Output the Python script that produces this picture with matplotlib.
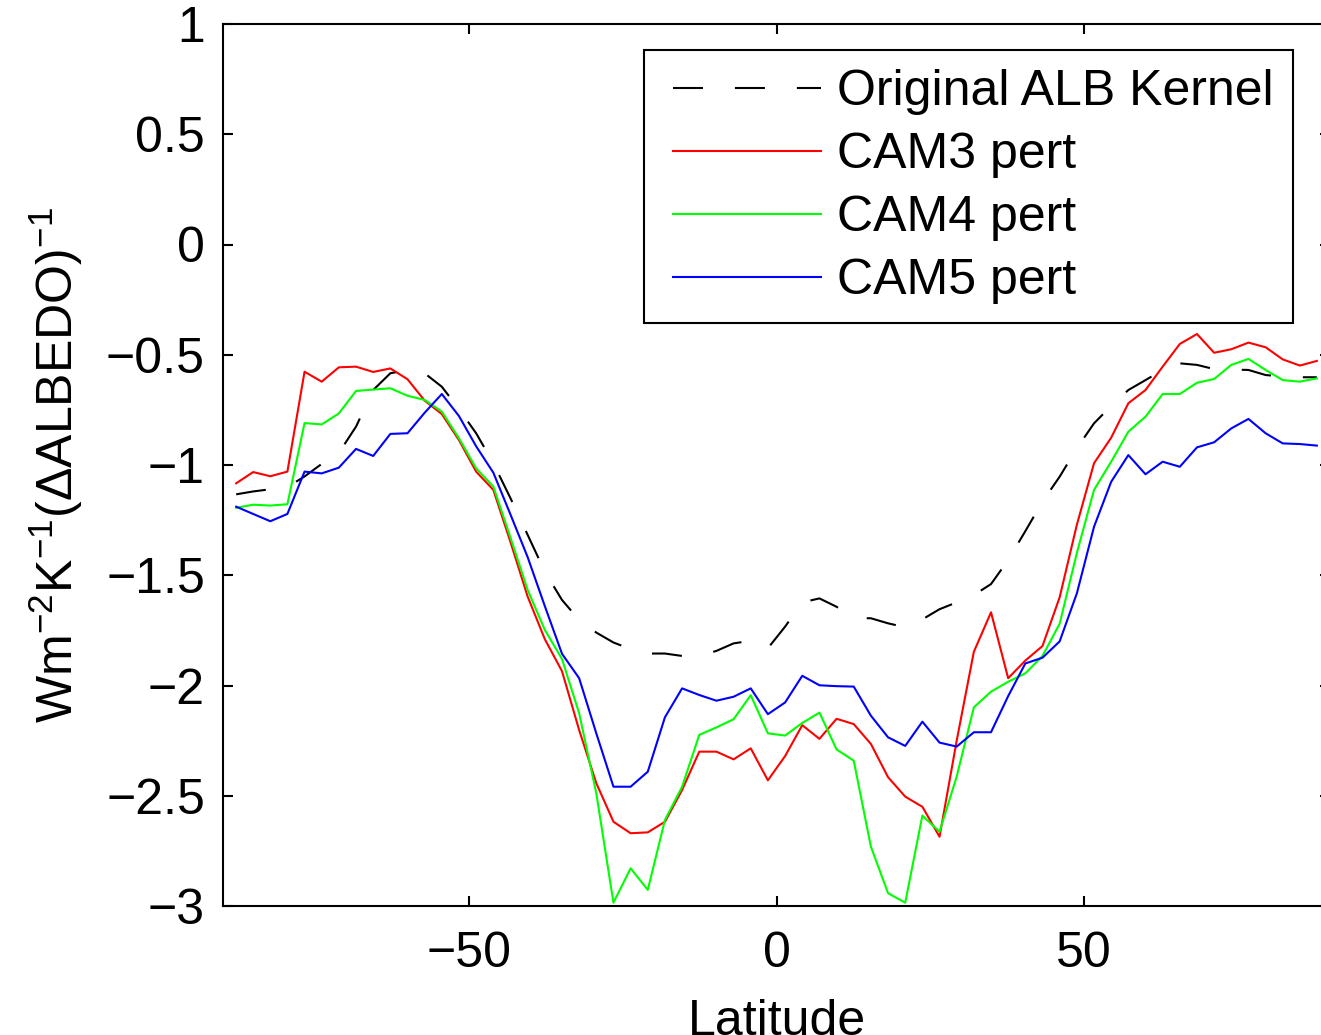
import matplotlib
matplotlib.use("Agg")
import matplotlib.pyplot as plt
from matplotlib.legend_handler import HandlerLine2D

plt.rcParams['font.family'] = ['Liberation Sans', 'DejaVu Sans']
plt.rcParams['mathtext.fontset'] = 'custom'
plt.rcParams['mathtext.rm'] = 'Liberation Sans'
plt.rcParams['mathtext.it'] = 'Liberation Sans:italic'
plt.rcParams['mathtext.bf'] = 'Liberation Sans:bold'
plt.rcParams['lines.scale_dashes'] = False

# T42 Gaussian latitudes (south to north)
latitude = [-87.86, -85.10, -82.31, -79.53, -76.74, -73.95, -71.16, -68.37,
            -65.58, -62.79, -60.00, -57.21, -54.42, -51.63, -48.84, -46.04,
            -43.25, -40.46, -37.67, -34.88, -32.09, -29.30, -26.51, -23.72,
            -20.93, -18.14, -15.35, -12.56, -9.77, -6.98, -4.19, -1.40,
            1.40, 4.19, 6.98, 9.77, 12.56, 15.35, 18.14, 20.93,
            23.72, 26.51, 29.30, 32.09, 34.88, 37.67, 40.46, 43.25,
            46.04, 48.84, 51.63, 54.42, 57.21, 60.00, 62.79, 65.58,
            68.37, 71.16, 73.95, 76.74, 79.53, 82.31, 85.10, 87.86]

original_alb = [-1.133, -1.120, -1.110, -1.100, -1.052, -0.995, -0.945, -0.826,
                -0.660, -0.584, -0.569, -0.584, -0.645, -0.746, -0.856, -0.992,
                -1.151, -1.317, -1.484, -1.612, -1.703, -1.760, -1.805, -1.835,
                -1.855, -1.855, -1.866, -1.866, -1.843, -1.809, -1.797, -1.831,
                -1.733, -1.623, -1.605, -1.643, -1.695, -1.695, -1.718, -1.736,
                -1.700, -1.654, -1.623, -1.590, -1.540, -1.431, -1.300, -1.166,
                -1.053, -0.924, -0.811, -0.732, -0.660, -0.615, -0.569, -0.539,
                -0.546, -0.565, -0.567, -0.569, -0.592, -0.599, -0.602, -0.602]

cam3_pert = [-1.083, -1.032, -1.051, -1.030, -0.577, -0.622, -0.557, -0.554,
             -0.578, -0.562, -0.611, -0.708, -0.769, -0.887, -1.030, -1.113,
             -1.350, -1.597, -1.790, -1.935, -2.202, -2.443, -2.618, -2.670,
             -2.666, -2.618, -2.474, -2.300, -2.300, -2.335, -2.285, -2.430,
             -2.320, -2.180, -2.242, -2.151, -2.175, -2.265, -2.416, -2.504,
             -2.550, -2.686, -2.250, -1.847, -1.668, -1.967, -1.887, -1.821,
             -1.600, -1.271, -0.992, -0.876, -0.720, -0.660, -0.554, -0.451,
             -0.406, -0.491, -0.475, -0.445, -0.466, -0.521, -0.549, -0.528]

cam4_pert = [-1.194, -1.180, -1.184, -1.178, -0.810, -0.816, -0.766, -0.664,
             -0.658, -0.652, -0.686, -0.705, -0.758, -0.879, -1.015, -1.098,
             -1.330, -1.567, -1.748, -1.880, -2.126, -2.489, -2.985, -2.829,
             -2.927, -2.610, -2.459, -2.224, -2.190, -2.153, -2.044, -2.217,
             -2.227, -2.170, -2.123, -2.290, -2.341, -2.731, -2.942, -2.985,
             -2.590, -2.663, -2.413, -2.099, -2.028, -1.983, -1.945, -1.866,
             -1.720, -1.399, -1.113, -0.985, -0.849, -0.781, -0.678, -0.678,
             -0.627, -0.610, -0.546, -0.519, -0.569, -0.615, -0.622, -0.607]

cam5_pert = [-1.189, -1.222, -1.255, -1.222, -1.030, -1.038, -1.012, -0.927,
             -0.959, -0.859, -0.856, -0.763, -0.678, -0.778, -0.915, -1.035,
             -1.225, -1.418, -1.640, -1.856, -1.967, -2.217, -2.459, -2.459,
             -2.391, -2.144, -2.013, -2.043, -2.069, -2.051, -2.013, -2.130,
             -2.077, -1.956, -1.999, -2.003, -2.005, -2.137, -2.235, -2.274,
             -2.164, -2.259, -2.277, -2.212, -2.212, -2.048, -1.900, -1.874,
             -1.800, -1.582, -1.280, -1.076, -0.955, -1.042, -0.985, -1.008,
             -0.920, -0.897, -0.834, -0.791, -0.856, -0.902, -0.905, -0.912]

series_labels = ['Original ALB Kernel', 'CAM3 pert', 'CAM4 pert', 'CAM5 pert']
xtick_values = [-50, 0, 50]
xtick_labels = ['\u221250', '0', '50']
ytick_values = [-3, -2.5, -2, -1.5, -1, -0.5, 0, 0.5, 1]
ytick_labels = ['\u22123', '\u22122.5', '\u22122', '\u22121.5', '\u22121', '\u22120.5', '0', '0.5', '1']

W, H = 1321, 1035
fig = plt.figure(figsize=(W / 100, H / 100), dpi=100)
ax = fig.add_axes([223 / W, (H - 906) / H, (1330 - 223) / W, (906 - 24) / H])

fs = 36
lw = 1.5
ax.plot(latitude, original_alb, color='black', lw=lw, linestyle=(0, (21.6, 23.0)), label=series_labels[0])
ax.plot(latitude, cam3_pert, color=(1, 0, 0), lw=lw, label=series_labels[1])
ax.plot(latitude, cam4_pert, color=(0, 1, 0), lw=lw, label=series_labels[2])
ax.plot(latitude, cam5_pert, color=(0, 0, 1), lw=lw, label=series_labels[3])

ax.set_xlim(-90, 90)
ax.set_ylim(-3, 1)
ax.set_xticks(xtick_values)
ax.set_xticklabels(xtick_labels)
ax.set_yticks(ytick_values)
ax.set_yticklabels(ytick_labels)
ax.tick_params(direction='in', length=7.2, width=1.5, labelsize=fs,
               top=True, right=True)
ax.tick_params(axis='y', pad=13)
ax.tick_params(axis='x', pad=18)
for s in ax.spines.values():
    s.set_linewidth(1.5)

ax.set_xlabel('Latitude', fontsize=fs, labelpad=16)
ax.set_ylabel(r'Wm$^{-2}$K$^{-1}$($\Delta$ALBEDO)$^{-1}$', fontsize=fs)
ax.yaxis.set_label_coords(-0.125, 0.5)

leg = ax.legend(loc='upper left', bbox_to_anchor=(644 / W, (H - 50) / H),
                bbox_transform=fig.transFigure, fontsize=fs, frameon=True,
                fancybox=False, framealpha=1, edgecolor='black',
                handlelength=3.16, handletextpad=0.32, labelspacing=0.34,
                borderpad=0.38, borderaxespad=0,
                handler_map={plt.Line2D: HandlerLine2D(xpad=0.2)})
leg.get_frame().set_linewidth(1.5)

fig.savefig('out.png', dpi=100)
